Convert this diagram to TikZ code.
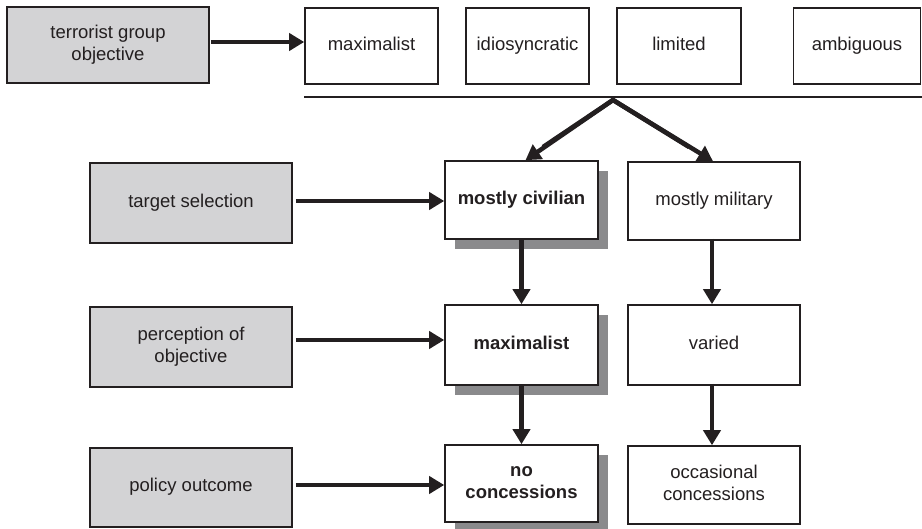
\documentclass[tikz,border=0pt]{standalone}
\usepackage{fontspec}
\setmainfont{Liberation Sans}
\usetikzlibrary{arrows.meta,shadows}
\definecolor{ink}{HTML}{231F20}
\definecolor{boxgray}{HTML}{D3D3D5}
\definecolor{shadowgray}{HTML}{8A8A8C}
\begin{document}
\begin{tikzpicture}[x=1pt,y=-1pt,
  box/.style={draw=ink, line width=1.6pt, fill=white, text=ink, align=center, inner sep=0pt, font=\fontsize{18.5}{22}\selectfont},
  graybox/.style={box, fill=boxgray},
  shbox/.style={box, font=\fontsize{18.5}{22}\selectfont\bfseries, drop shadow={shadow xshift=10pt, shadow yshift=-10pt, fill=shadowgray, opacity=1}},
  arr/.style={draw=ink, line width=4.5pt, -{Triangle[length=15pt,width=17pt]}}]
\useasboundingbox (0,0) rectangle (922,529);
% top row
\node[graybox, minimum width=202pt, minimum height=76pt] (tgo) at (108,45) {terrorist group\strut\\objective\strut};
\node[box, minimum width=133pt, minimum height=76pt] (tmax) at (371.5,46) {maximalist\strut};
\node[box, minimum width=123pt, minimum height=76pt] (tidi) at (527.5,46) {idiosyncratic\strut};
\node[box, minimum width=124pt, minimum height=76pt] (tlim) at (679,46) {limited\strut};
\node[box, minimum width=127pt, minimum height=76pt] (tamb) at (857,46) {ambiguous\strut};
\coordinate (lineL) at (304,97);
\coordinate (lineR) at (922,97);
\draw[draw=ink, line width=1.6pt] (lineL) -- (lineR);
\coordinate (apex) at (613,100);
% left column
\node[graybox, minimum width=202pt, minimum height=80pt] (ts) at (191,203) {target selection\strut};
\node[graybox, minimum width=202pt, minimum height=80pt] (po) at (191,347) {perception of\strut\\objective\strut};
\node[graybox, minimum width=202pt, minimum height=79pt] (pol) at (191,487.5) {policy outcome\strut};
% middle column
\node[shbox, minimum width=153pt, minimum height=78pt] (mc) at (521.5,200) {mostly civilian\strut};
\node[shbox, minimum width=153pt, minimum height=80pt] (mx) at (521.5,345) {maximalist\strut};
\node[shbox, minimum width=153pt, minimum height=77pt] (nc) at (521.5,483.5) {no\strut\\concessions\strut};
% right column
\node[box, minimum width=172pt, minimum height=78pt] (mm) at (714,201) {mostly military\strut};
\node[box, minimum width=172pt, minimum height=80pt] (va) at (714,345) {varied\strut};
\node[box, minimum width=172pt, minimum height=78pt] (oc) at (714,485) {occasional\strut\\concessions\strut};
% arrows
\draw[arr] ([xshift=1pt]tgo.east |- 0,42) -- (tmax.west |- 0,42);
\draw[arr] ([xshift=3pt]ts.east |- 0,201) -- (mc.west |- 0,201);
\draw[arr] ([xshift=3pt]po.east |- 0,340) -- (mx.west |- 0,340);
\draw[arr] ([xshift=3pt]pol.east |- 0,485) -- (nc.west |- 0,485);
\draw[draw=ink, line width=4.5pt, line join=miter] (apex) ++(-70,47) -- (apex) -- ++(76,47);
\draw[arr] (apex) -- ([xshift=4pt]mc.north);
\draw[arr] (apex) -- ([xshift=-1pt]mm.north);
\draw[arr] ([xshift=0pt]mc.south) -- ([xshift=0pt]mx.north);
\draw[arr] ([xshift=-2pt,yshift=2pt]mm.south) -- ([xshift=-2pt]va.north);
\draw[arr] ([xshift=0pt]mx.south) -- ([xshift=0pt]nc.north);
\draw[arr] ([xshift=-2pt,yshift=2pt]va.south) -- ([xshift=-2pt]oc.north);
\end{tikzpicture}
\end{document}
